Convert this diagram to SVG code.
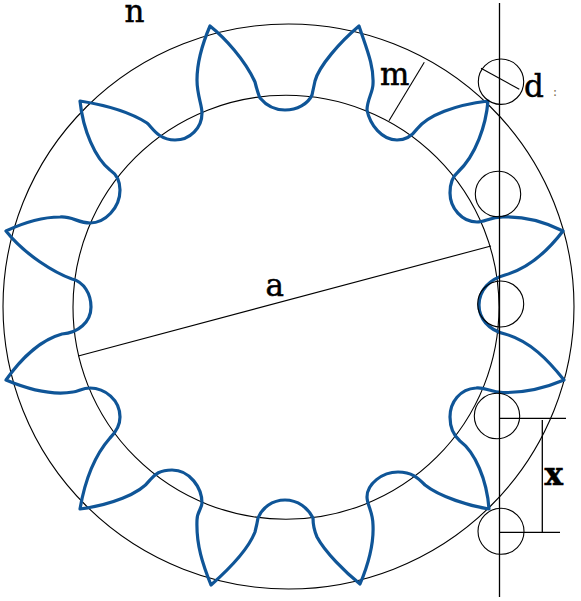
<svg xmlns="http://www.w3.org/2000/svg" width="581" height="601" viewBox="0 0 581 601">
<style>
.thin{fill:none;stroke:#000;stroke-width:1.1}
.line{fill:none;stroke:#000;stroke-width:1.3}
.gear{fill:none;stroke:#0f5597;stroke-width:3.2;stroke-linejoin:round;stroke-linecap:round}
.lab{font-family:"DejaVu Serif","Liberation Serif",serif;font-size:31px;fill:#000;stroke:#000;stroke-width:.5}
</style>
<rect width="581" height="601" fill="#fff"/>
<g id="pitch-circles">
<ellipse class="thin" cx="288.5" cy="306.5" rx="285.5" ry="282.5"/>
<ellipse class="thin" cx="286" cy="307.3" rx="213" ry="212"/>
</g>
<g id="gear">
<path class="gear" d="M285,110 C297,110 308,104 312,95 C313,90 314,86 315,81 C319,66 340,42 359,26 C367,50 374,66 373,84 C373,92 367,100 367,110 C370,125 382,140 397,140 C405,140 412,136 417,129 C428,115 455,105 488,101 C486,125 476,155 458,172 C452,177 450,184 450,193 C450,208 462,222 477,222 C485,222 490,217 503,217 C525,216 545,222 563,231 C550,248 530,268 505,275 C490,279 479,290 479,305 C479,318 488,330 505,334 C530,341 548,360 564,380 C545,388 525,393 503,392.5 C490,392 485,387 476,388 C460,389 450,402 450,417 C450,428 453,435 460,441 C475,452 487,480 489,509 C470,506 440,497 425,485 C418,478 412,472 398,472 C382,472 367,484 367,497 C367,505 373,512 373,525 C374,545 368,565 360,584 C345,572 325,552 317,537 C314,530 313,525 313,518 C308,508 298,500 285,500 C272,500 262,508 258,518 C257,524 256,528 255,532 C248,550 228,570 211,585 C203,565 196,545 197,520 C197,512 202,508 202,503 C202,488 190,470 172,470 C160,470 155,474 150,480 C140,494 110,505 80,509 C85,480 95,455 110,438 C117,431 120,425 120,417 C120,400 105,388 90,388 C82,388 78,392 73,392 C50,396 25,388 6,380 C20,360 40,340 62,334 C78,333 91,322 91,307 C91,294 84,282 72,279 C55,273 25,255 6,231 C25,222 45,217 60,217 C72,216 78,223 90,223 C105,223 120,208 120,190 C120,180 116,174 110,170 C95,158 83,130 80,101 C105,105 130,112 147,123 C152,127 158,140 175,140 C190,140 202,128 202,113 C202,105 197,95 197,80 C197,60 204,40 210,26 C225,38 245,60 255,82 C257,90 258,94 260,98 C265,104 274,110 285,110 Z"/>
</g>
<g id="holes">
<circle class="thin" cx="501" cy="81.7" r="22.7"/>
<circle class="thin" cx="498" cy="194" r="22.7"/>
<circle class="thin" cx="500.7" cy="304" r="23"/>
<circle class="thin" cx="497" cy="416" r="22.7"/>
<circle class="thin" cx="501" cy="531.3" r="23"/>
</g>
<g id="connectors">
<line class="line" x1="499.5" y1="3" x2="499.5" y2="597"/>
<line class="thin" x1="481" y1="68.3" x2="519.3" y2="89.3"/>
<line class="thin" x1="424.3" y1="62.3" x2="389" y2="120.7"/>
<line class="thin" x1="78.3" y1="356" x2="491" y2="246"/>
<line class="line" x1="499.3" y1="418.3" x2="566" y2="418.3"/>
<line class="line" x1="499.3" y1="532.3" x2="560" y2="532.3"/>
<line class="line" x1="542.3" y1="420" x2="542.3" y2="532.3"/>
</g>
<g id="labels">
<text class="lab" x="124.5" y="21.7">n</text>
<text class="lab" x="265.5" y="295.7">a</text>
<text class="lab" x="380" y="85">m</text>
<text class="lab" x="524" y="96.7">d</text>
<text class="lab" x="544.5" y="485" font-weight="bold">x</text>
<text x="553" y="96" font-family="DejaVu Serif" font-size="12" fill="#7a6a50">:</text>
</g>
</svg>
